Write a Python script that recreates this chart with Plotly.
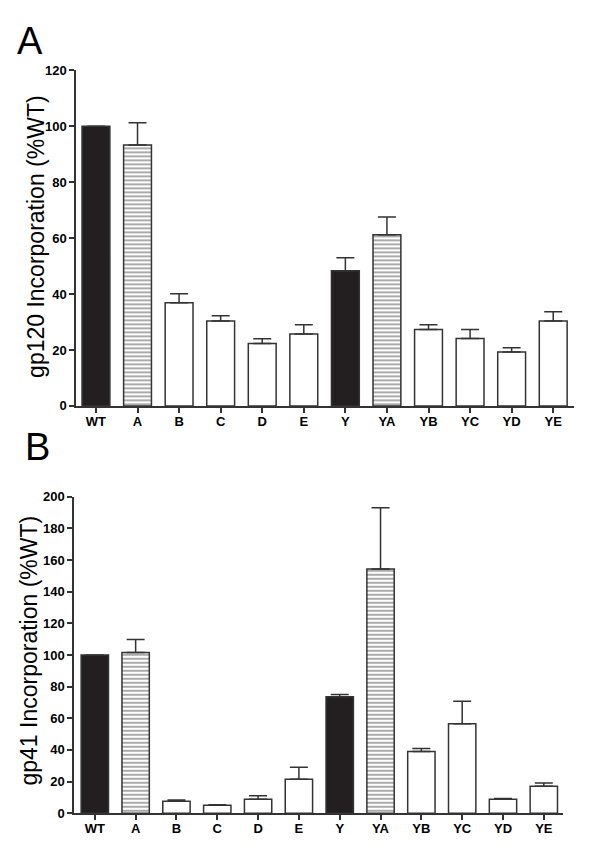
import plotly.graph_objects as go

categories = ["WT", "A", "B", "C", "D", "E", "Y", "YA", "YB", "YC", "YD", "YE"]
gp120_mean = [100, 93.3, 36.9, 30.4, 22.3, 25.7, 48.3, 61.2, 27.3, 24.1, 19.3, 30.4]
gp120_upper = [100, 101.3, 40.1, 32.2, 24.0, 29.0, 53.0, 67.6, 29.0, 27.3, 20.8, 33.7]
gp41_mean = [100, 101.6, 7.5, 5.0, 8.7, 21.4, 73.5, 154.3, 39.0, 56.5, 8.7, 17.0]
gp41_upper = [100, 109.7, 8.3, 5.3, 11.0, 29.0, 75.0, 193.1, 40.9, 70.8, 9.3, 19.1]
bar_style = ["solid", "hatch", "open", "open", "open", "open",
             "solid", "hatch", "open", "open", "open", "open"]
gp120_ticks = [0, 20, 40, 60, 80, 100, 120]
gp41_ticks = [0, 20, 40, 60, 80, 100, 120, 140, 160, 180, 200]

W, H = 600, 857
DARK = "#231f20"
EDGE = "#333333"

colors = [DARK if s == "solid" else "white" for s in bar_style]
shapes = ["-" if s == "hatch" else "" for s in bar_style]

fig = go.Figure()

def add_panel(mean, upper, xa, ya):
    fig.add_trace(go.Bar(
        x=list(range(len(categories))), y=mean,
        xaxis=xa, yaxis=ya,
        marker=dict(color=colors, line=dict(color=EDGE, width=1.5),
                    pattern=dict(shape=shapes, fgcolor="#000000", bgcolor="white",
                                 size=4, solidity=0.45)),
        error_y=dict(type="data", symmetric=False,
                     array=[u - m for u, m in zip(upper, mean)],
                     arrayminus=[0] * len(mean),
                     color=EDGE, thickness=1.5, width=9),
        width=0.67, showlegend=False, hoverinfo="skip",
    ))

add_panel(gp120_mean, gp120_upper, "x", "y")
add_panel(gp41_mean, gp41_upper, "x2", "y2")

def px_x(p):
    return p / W

def px_y(p):
    return 1 - p / H

FONT = "Liberation Sans, Arial, sans-serif"
tickfont = dict(family=FONT, size=13, color="black")
common_x = dict(tickmode="array", tickvals=list(range(len(categories))),
                ticktext=[f"<b>{c}</b>" for c in categories],
                showline=True, linecolor=EDGE, linewidth=1.5, ticks="outside", ticklen=5,
                tickcolor=EDGE, tickwidth=1.5, showgrid=False, zeroline=False, tickfont=tickfont,
                ticklabelstandoff=-2)
common_y = dict(showline=True, linecolor=EDGE, linewidth=1.5, ticks="outside", ticklen=5,
                tickcolor=EDGE, tickwidth=1.5, showgrid=False, zeroline=False, tickfont=tickfont)

fig.update_layout(
    width=W, height=H, margin=dict(l=0, r=0, t=0, b=0),
    plot_bgcolor="white", paper_bgcolor="white",
    xaxis=dict(common_x, domain=[px_x(76), px_x(574)], range=[-0.48, 11.5], anchor="y"),
    yaxis=dict(common_y, domain=[px_y(406), px_y(64.5)], range=[0, 120],
               tickvals=gp120_ticks, ticktext=[f"<b>{t}</b>" for t in gp120_ticks], anchor="x"),
    xaxis2=dict(common_x, domain=[px_x(74), px_x(563)], range=[-0.51, 11.47], anchor="y2"),
    yaxis2=dict(common_y, domain=[px_y(820.5), px_y(498.5)], range=[0, 200],
                tickvals=gp41_ticks, ticktext=[f"<b>{t}</b>" for t in gp41_ticks], anchor="x2"),
    bargap=0.33,
)

fig.add_annotation(text="A", x=px_x(15), y=px_y(35), xref="paper", yref="paper",
                   xanchor="left", yanchor="middle", showarrow=False,
                   font=dict(family=FONT, size=38, color="black"))
fig.add_annotation(text="B", x=px_x(23), y=px_y(448), xref="paper", yref="paper",
                   xanchor="left", yanchor="middle", showarrow=False,
                   font=dict(family=FONT, size=38, color="black"))
fig.add_annotation(text="gp120 Incorporation (%WT)", x=px_x(36), y=px_y(234), xref="paper", yref="paper",
                   xanchor="center", yanchor="middle", textangle=-90, showarrow=False,
                   font=dict(family=FONT, size=23, color="black"))
fig.add_annotation(text="gp41 Incorporation (%WT)", x=px_x(29), y=px_y(655), xref="paper", yref="paper",
                   xanchor="center", yanchor="middle", textangle=-90, showarrow=False,
                   font=dict(family=FONT, size=23, color="black"))

fig.write_html("out.html", config={"displayModeBar": False},
               post_script="document.body.style.margin='0';document.body.style.padding='0';")
